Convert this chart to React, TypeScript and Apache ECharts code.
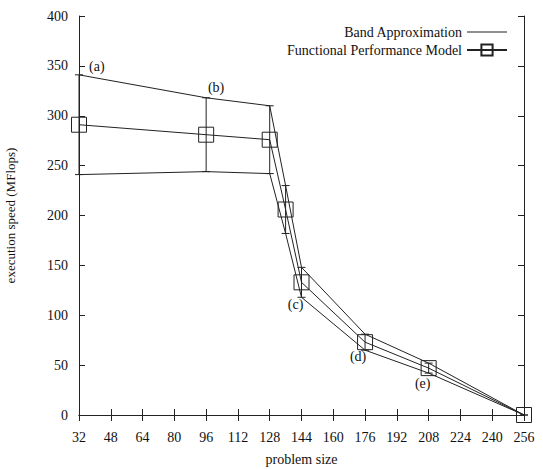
import React, { useEffect, useRef } from "react";
import * as echarts from "echarts";

const problemSizes = [32, 96, 128, 136, 144, 176, 208, 256];
const fpmSpeed = [291, 281, 276, 206, 133, 73, 47, 0];
const bandUpper = [341, 318, 310, 230, 148, 81, 52, 0];
const bandLower = [241, 244, 242, 182, 118, 65, 42, 0];

const noteText = ["(a)", "(b)", "(c)", "(d)", "(e)"];
const noteX = [41, 101, 141, 172.5, 205];
const noteY = [349, 328, 111, 59, 32];

const FONT = "'Liberation Serif', 'Times New Roman', serif";
const INK = "#222";

export default function App() {
  const ref = useRef<HTMLDivElement>(null);
  useEffect(() => {
    document.body.style.margin = "0";
    if (!ref.current) return;
    const chart = echarts.init(ref.current, undefined, { renderer: "svg" });
    const pairs = (ys: number[]) => problemSizes.map((x, i) => [x, ys[i]]);
    const errData = problemSizes.map((x, i) => [x, bandLower[i], bandUpper[i]]);
    const tickCommon = {
      axisLine: { show: true, lineStyle: { color: INK, width: 1 } },
      axisTick: { show: true, inside: true, length: 6, lineStyle: { color: INK } },
      splitLine: { show: false },
    };
    chart.setOption({
      animation: false,
      backgroundColor: "#fff",
      textStyle: { fontFamily: FONT },
      grid: { left: 79, right: 19, top: 16, bottom: 55, containLabel: false, outerBoundsMode: "none" },
      legend: {
        right: 30,
        top: 20,
        orient: "vertical",
        align: "right",
        itemWidth: 40,
        itemHeight: 14,
        itemGap: 4,
        textStyle: { fontFamily: FONT, fontSize: 14, color: "#111" },
        data: [
          { name: "Band Approximation", icon: "path://M0,0H40V1H0Z", itemStyle: { color: INK } },
          { name: "Functional Performance Model" },
        ],
      },
      xAxis: [
        {
          type: "value",
          min: 32,
          max: 256,
          interval: 16,
          name: "problem size",
          nameLocation: "middle",
          nameGap: 37,
          nameTextStyle: { fontFamily: FONT, fontSize: 14, color: "#111" },
          axisLabel: { fontFamily: FONT, fontSize: 14, color: "#111", margin: 15 },
          ...tickCommon,
        },
        {
          type: "value",
          position: "top",
          min: 32,
          max: 256,
          interval: 16,
          axisLabel: { show: false },
          ...tickCommon,
        },
      ],
      yAxis: [
        {
          type: "value",
          min: 0,
          max: 400,
          interval: 50,
          name: "execution speed (MFlops)",
          nameLocation: "middle",
          nameGap: 62,
          nameTextStyle: { fontFamily: FONT, fontSize: 13, color: "#111" },
          axisLabel: { fontFamily: FONT, fontSize: 14, color: "#111", margin: 11 },
          ...tickCommon,
        },
        {
          type: "value",
          position: "right",
          min: 0,
          max: 400,
          interval: 50,
          axisLabel: { show: false },
          ...tickCommon,
        },
      ],
      series: [
        {
          name: "Band Approximation",
          type: "line",
          data: pairs(bandUpper),
          symbol: "none",
          lineStyle: { color: INK, width: 1 },
          itemStyle: { color: INK },
          clip: false,
        },
        {
          name: "Band Approximation",
          type: "line",
          data: pairs(bandLower),
          symbol: "none",
          lineStyle: { color: INK, width: 1 },
          itemStyle: { color: INK },
          clip: false,
        },
        {
          name: "Functional Performance Model",
          type: "line",
          data: pairs(fpmSpeed),
          symbol: "rect",
          symbolSize: 15,
          lineStyle: { color: INK, width: 1 },
          itemStyle: { color: "rgba(255,255,255,0)", borderColor: INK, borderWidth: 1 },
          clip: false,
          z: 3,
        },
        {
          name: "errors",
          type: "custom",
          data: errData,
          renderItem: (params: any, api: any) => {
            const x = api.value(0);
            const lo = api.coord([x, api.value(1)]);
            const hi = api.coord([x, api.value(2)]);
            const cap = 4;
            const style = { stroke: INK, lineWidth: 1 };
            return {
              type: "group",
              children: [
                { type: "line", shape: { x1: lo[0], y1: lo[1], x2: hi[0], y2: hi[1] }, style },
                { type: "line", shape: { x1: lo[0] - cap, y1: lo[1], x2: lo[0] + cap, y2: lo[1] }, style },
                { type: "line", shape: { x1: hi[0] - cap, y1: hi[1], x2: hi[0] + cap, y2: hi[1] }, style },
              ],
            };
          },
          z: 2,
        },
        {
          name: "notes",
          type: "custom",
          data: noteText.map((t, i) => [noteX[i], noteY[i]]),
          renderItem: (params: any, api: any) => {
            const p = api.coord([api.value(0), api.value(1)]);
            return {
              type: "text",
              x: p[0],
              y: p[1],
              style: {
                text: noteText[params.dataIndex],
                fill: "#111",
                font: `14px ${FONT}`,
                align: "center",
                verticalAlign: "middle",
              },
            };
          },
          silent: true,
        },
      ],
    });
    return () => chart.dispose();
  }, []);
  return <div ref={ref} style={{ width: 543, height: 470 }} />;
}
